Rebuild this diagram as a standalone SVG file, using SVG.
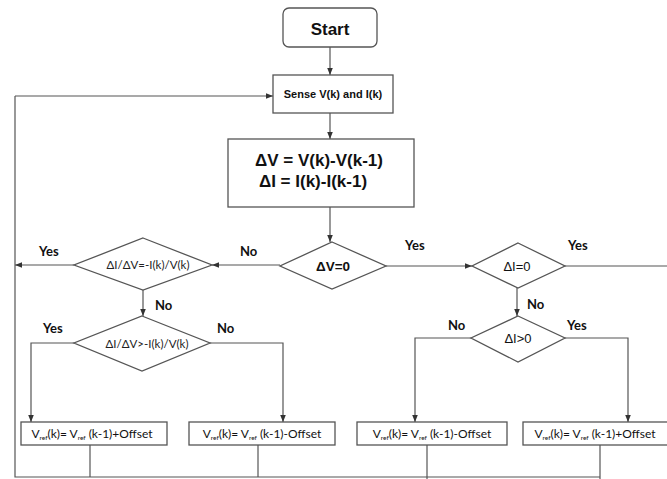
<svg xmlns="http://www.w3.org/2000/svg" width="667" height="479" viewBox="0 0 667 479">
<defs>
<marker id="ah" viewBox="0 0 10 10" refX="10" refY="5" markerWidth="7" markerHeight="7" orient="auto" markerUnits="userSpaceOnUse">
<path d="M0,1 L10,5 L0,9 Z" fill="#333"/>
</marker>
<style>
.box{fill:#fff;stroke:#555;stroke-width:1.3}
.ln{fill:none;stroke:#555;stroke-width:1.2}
.arr{fill:none;stroke:#555;stroke-width:1.2;marker-end:url(#ah)}
.t{font-family:"Liberation Sans",Arial,sans-serif;fill:#111;text-anchor:middle}
.lbl{font-family:Lato,"Liberation Sans",sans-serif;font-weight:bold;font-size:13px;fill:#111}
.dt{font-family:Lato,"Liberation Sans",sans-serif;font-size:11.5px;fill:#222;text-anchor:middle}
.bt{font-family:Lato,"Liberation Sans",sans-serif;font-size:12px;fill:#111;text-anchor:middle}
.sub{font-size:6.5px}
</style>
</defs>
<rect width="667" height="479" fill="#fff"/>
<g id="connectors">
<line class="arr" x1="330" y1="47" x2="330" y2="75"/>
<line class="arr" x1="330" y1="113" x2="330" y2="139"/>
<line class="arr" x1="330" y1="207" x2="330" y2="242"/>
<line class="arr" x1="280" y1="265" x2="212" y2="265"/>
<line class="arr" x1="74" y1="265" x2="15" y2="265"/>
<line class="arr" x1="143" y1="290" x2="143" y2="316"/>
<polyline class="arr" points="74,343 31,343 31,422"/>
<polyline class="arr" points="210,343 283,343 283,422"/>
<line class="arr" x1="386" y1="266" x2="472" y2="266"/>
<line class="ln" x1="565" y1="266" x2="667" y2="266"/>
<line class="arr" x1="517" y1="288" x2="517" y2="316"/>
<polyline class="arr" points="471,338 415,338 415,422"/>
<polyline class="arr" points="565,338 628,338 628,422"/>
<line class="ln" x1="90" y1="445" x2="90" y2="477"/>
<line class="ln" x1="258" y1="445" x2="258" y2="477"/>
<line class="ln" x1="427" y1="445" x2="427" y2="479"/>
<line class="ln" x1="600" y1="445" x2="600" y2="479"/>
<polyline class="ln" points="600,477 15,477 15,96"/>
<line class="arr" x1="15" y1="96" x2="273" y2="96"/>
</g>
<g id="start">
<rect class="box" x="283" y="8" width="94" height="39" rx="6"/>
<text class="t" x="330" y="35" font-size="17" font-weight="bold">Start</text>
</g>
<g id="sense">
<rect class="box" x="273" y="75" width="120" height="38"/>
<text class="t" x="333" y="98" font-size="11" font-weight="bold">Sense V(k) and I(k)</text>
</g>
<g id="delta">
<rect class="box" x="228" y="139" width="186" height="68"/>
<text class="t" x="319" y="166" font-size="17" font-weight="bold">ΔV = V(k)-V(k-1)</text>
<text class="t" x="313" y="187" font-size="17" font-weight="bold">ΔI = I(k)-I(k-1)</text>
</g>
<g id="dv0">
<polygon class="box" points="332,242 386,266 332,289 280,266"/>
<text class="t" x="333" y="271" font-size="13.5" font-weight="bold">ΔV=0</text>
</g>
<g id="d1">
<polygon class="box" points="143,238 212,265 143,290 74,265"/>
<text class="dt" x="148" y="269">ΔI/ΔV=-I(k)/V(k)</text>
</g>
<g id="d2">
<polygon class="box" points="142,316 210,343 142,371 74,343"/>
<text class="dt" x="147" y="348">ΔI/ΔV&gt;-I(k)/V(k)</text>
</g>
<g id="di0">
<polygon class="box" points="518,243 565,266 518,288 472,266"/>
<text class="t" x="517" y="271" font-size="13" font-family="Lato,'Liberation Sans',sans-serif">ΔI=0</text>
</g>
<g id="dig0">
<polygon class="box" points="518,316 565,338 518,362 471,338"/>
<text class="t" x="518" y="343" font-size="13" font-family="Lato,'Liberation Sans',sans-serif">ΔI&gt;0</text>
</g>
<g id="labels">
<text class="lbl" x="39" y="256">Yes</text>
<text class="lbl" x="240" y="256">No</text>
<text class="lbl" x="405" y="250">Yes</text>
<text class="lbl" x="568" y="250">Yes</text>
<text class="lbl" x="155" y="310">No</text>
<text class="lbl" x="43" y="333">Yes</text>
<text class="lbl" x="217" y="333">No</text>
<text class="lbl" x="527" y="309">No</text>
<text class="lbl" x="448" y="330">No</text>
<text class="lbl" x="567" y="330">Yes</text>
</g>
<g id="b1">
<rect class="box" x="21" y="422" width="146" height="23"/>
<text class="bt" x="92" y="438">V<tspan class="sub" dy="2">ref</tspan><tspan dy="-2">(k)= V</tspan><tspan class="sub" dy="2">ref</tspan><tspan dy="-2"> (k-1)+Offset</tspan></text>
</g>
<g id="b2">
<rect class="box" x="189" y="422" width="146" height="23"/>
<text class="bt" x="262" y="438">V<tspan class="sub" dy="2">ref</tspan><tspan dy="-2">(k)= V</tspan><tspan class="sub" dy="2">ref</tspan><tspan dy="-2"> (k-1)-Offset</tspan></text>
</g>
<g id="b3">
<rect class="box" x="357" y="422" width="150" height="23"/>
<text class="bt" x="432" y="438">V<tspan class="sub" dy="2">ref</tspan><tspan dy="-2">(k)= V</tspan><tspan class="sub" dy="2">ref</tspan><tspan dy="-2"> (k-1)-Offset</tspan></text>
</g>
<g id="b4">
<rect class="box" x="523" y="422" width="152" height="23"/>
<text class="bt" x="595" y="438">V<tspan class="sub" dy="2">ref</tspan><tspan dy="-2">(k)= V</tspan><tspan class="sub" dy="2">ref</tspan><tspan dy="-2"> (k-1)+Offset</tspan></text>
</g>
</svg>
